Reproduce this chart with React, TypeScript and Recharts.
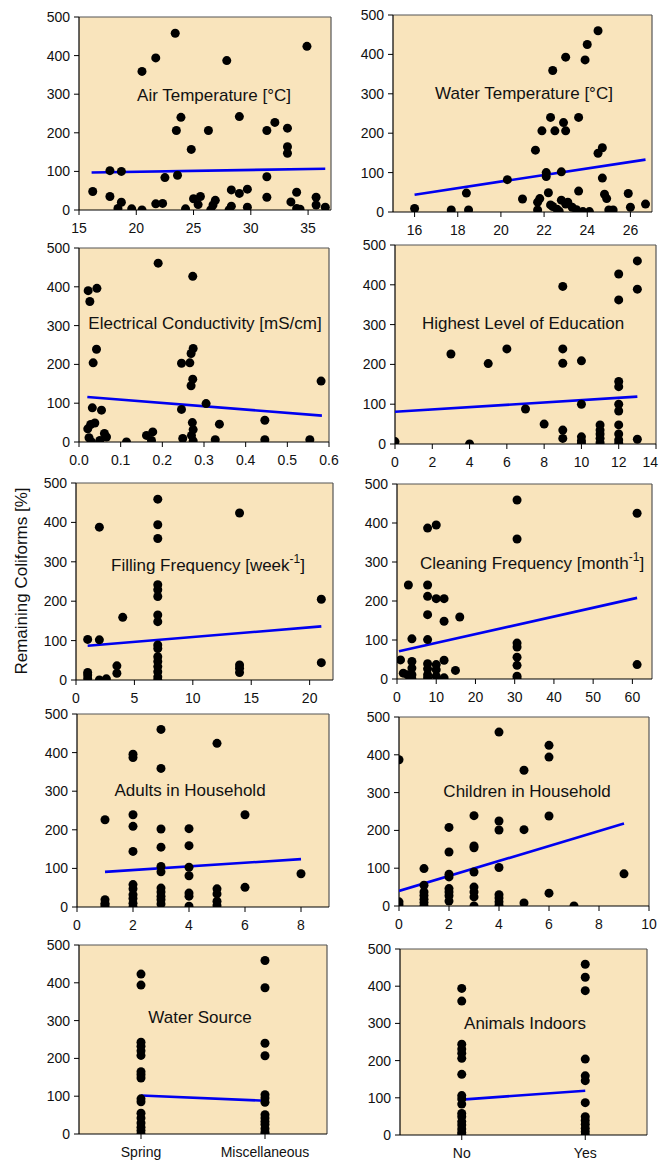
import React from 'react';
import { ScatterChart, Scatter, XAxis, YAxis, CartesianGrid, ReferenceLine } from 'recharts';

// ---------- Data ----------
const yTicks = [0, 100, 200, 300, 400, 500];

const airTempX = [16.2, 17.7, 17.7, 18.7, 18.7, 18.4, 19.6, 20.5, 20.5, 21.7, 21.7, 22.3, 22.5, 23.4, 23.5, 23.6, 23.9, 24.3, 24.8, 25.0, 25.4, 25.6, 26.3, 26.5, 26.7, 26.9, 27.9, 28.1, 28.3, 28.3, 29.0, 29.0, 29.7, 29.7, 31.4, 31.4, 31.4, 32.1, 33.2, 33.2, 33.2, 33.5, 34.0, 34.0, 34.3, 34.9, 35.7, 35.7, 36.5];
const airTempY = [48, 102, 35, 100, 20, 4, 3, 359, 0, 394, 16, 17, 84, 458, 206, 90, 240, 3, 157, 29, 14, 35, 206, 0, 13, 25, 387, 0, 52, 10, 43, 242, 54, 7, 206, 86, 33, 227, 212, 164, 147, 21, 46, 4, 2, 424, 33, 13, 7];
const airTempFit = [{ x: 16.1, y: 97 }, { x: 36.5, y: 107 }];
const airTempTicks = [15, 20, 25, 30, 35];

const waterTempX = [16.0, 17.7, 18.4, 18.5, 20.3, 21.0, 21.6, 21.7, 21.7, 21.8, 21.9, 22.1, 22.1, 22.2, 22.3, 22.3, 22.4, 22.4, 22.5, 22.6, 22.7, 22.8, 22.8, 22.9, 23.0, 23.0, 23.0, 23.1, 23.3, 23.5, 23.6, 23.6, 23.8, 23.9, 24.0, 24.1, 24.5, 24.5, 24.7, 24.7, 24.8, 24.9, 25.0, 25.2, 25.9, 26.0, 26.7];
const waterTempY = [9, 5, 48, 5, 82, 33, 157, 25, 5, 34, 206, 100, 90, 49, 240, 18, 359, 14, 206, 7, 2, 102, 30, 227, 206, 393, 20, 25, 12, 6, 240, 53, 1, 386, 425, 1, 460, 149, 163, 86, 45, 34, 5, 5, 47, 12, 20];
const waterTempFit = [{ x: 16.0, y: 44 }, { x: 26.7, y: 133 }];
const waterTempTicks = [16, 18, 20, 22, 24, 26];

const condX = [0.022, 0.026, 0.043, 0.042, 0.034, 0.032, 0.054, 0.021, 0.028, 0.038, 0.024, 0.030, 0.050, 0.061, 0.066, 0.114, 0.162, 0.177, 0.174, 0.190, 0.246, 0.246, 0.249, 0.266, 0.269, 0.274, 0.273, 0.273, 0.269, 0.272, 0.274, 0.270, 0.274, 0.305, 0.327, 0.337, 0.446, 0.446, 0.554, 0.581];
const condY = [390, 362, 396, 239, 204, 88, 82, 34, 45, 49, 11, 0, 4, 22, 13, 0, 17, 26, 4, 461, 203, 84, 9, 204, 228, 241, 427, 162, 145, 50, 32, 17, 3, 99, 6, 46, 56, 6, 6, 157];
const condFit = [{ x: 0.02, y: 116 }, { x: 0.583, y: 68 }];
const condTicks = [0, 0.1, 0.2, 0.3, 0.4, 0.5, 0.6];

const eduX = [0, 3, 4, 5, 6, 7, 8, 9, 9, 9, 9, 9, 10, 10, 10, 10, 10, 11, 11, 11, 11, 11, 12, 12, 12, 12, 12, 12, 12, 12, 12, 12, 13, 13, 13];
const eduY = [6, 226, 0, 202, 239, 88, 50, 396, 239, 203, 35, 14, 209, 100, 18, 8, 2, 48, 35, 25, 14, 3, 427, 362, 157, 144, 100, 83, 48, 25, 10, 2, 460, 389, 12];
const eduFit = [{ x: 0, y: 81 }, { x: 13, y: 119 }];
const eduTicks = [0, 2, 4, 6, 8, 10, 12, 14];

const fillX = [1, 1, 1, 1, 2, 2, 2, 2.6, 3.5, 3.5, 4, 7, 7, 7, 7, 7, 7, 7, 7, 7, 7, 7, 7, 7, 7, 7, 7, 14, 14, 14, 14, 21, 21];
const fillY = [103, 19, 13, 4, 388, 102, 0, 3, 36, 17, 159, 459, 394, 359, 242, 229, 212, 165, 148, 89, 80, 59, 47, 34, 21, 8, 0, 424, 38, 30, 19, 205, 44];
const fillFit = [{ x: 1, y: 87 }, { x: 21, y: 136 }];
const fillTicks = [0, 5, 10, 15, 20];

const cleanX = [0.9, 1.6, 2.7, 2.9, 3.8, 3.8, 3.8, 3.8, 3.8, 7.8, 7.8, 7.8, 7.8, 7.8, 7.8, 7.8, 7.8, 7.8, 10, 10, 10, 10, 10, 12, 12, 12, 12, 14.9, 16, 30.6, 30.6, 30.6, 30.6, 30.6, 30.6, 30.6, 30.6, 61.2, 61.2];
const cleanY = [49, 15, 11, 241, 103, 45, 28, 11, 0, 387, 241, 212, 165, 101, 39, 26, 11, 3, 395, 206, 37, 24, 7, 206, 148, 48, 3, 22, 159, 459, 359, 92, 82, 56, 35, 7, 0, 425, 37];
const cleanFit = [{ x: 0.5, y: 71 }, { x: 61.2, y: 208 }];
const cleanTicks = [0, 10, 20, 30, 40, 50, 60];

const adultsX = [1, 1, 1, 1, 1, 2, 2, 2, 2, 2, 2, 2, 2, 2, 2, 2, 3, 3, 3, 3, 3, 3, 3, 3, 3, 3, 3, 4, 4, 4, 4, 4, 4, 4, 5, 5, 5, 5, 5, 6, 6, 8];
const adultsY = [226, 19, 10, 6, 0, 396, 387, 239, 209, 144, 58, 47, 32, 22, 10, 0, 460, 359, 202, 155, 105, 91, 49, 39, 28, 19, 8, 203, 159, 103, 81, 36, 28, 2, 424, 47, 34, 15, 4, 239, 51, 86];
const adultsFit = [{ x: 1, y: 91 }, { x: 8, y: 124 }];
const adultsTicks = [0, 2, 4, 6, 8];

const childrenX = [0, 0, 0, 1, 1, 1, 1, 1, 1, 1, 2, 2, 2, 2, 2, 2, 2, 2, 3, 3, 3, 3, 3, 3, 3, 3, 4, 4, 4, 4, 4, 4, 4, 4, 5, 5, 5, 6, 6, 6, 6, 7, 9];
const childrenY = [387, 11, 4, 99, 55, 37, 28, 18, 9, 0, 208, 143, 84, 77, 46, 37, 27, 13, 239, 159, 154, 90, 50, 37, 24, 0, 460, 225, 201, 102, 30, 21, 11, 2, 359, 202, 8, 425, 394, 238, 34, 0, 85];
const childrenFit = [{ x: 0, y: 40 }, { x: 9, y: 218 }];
const childrenTicks = [0, 2, 4, 6, 8, 10];

const sourceCategories = ['Spring', 'Miscellaneous'];
const sourceX = [1, 1, 1, 1, 1, 1, 1, 1, 1, 1, 1, 1, 1, 1, 1, 1, 1, 3, 3, 3, 3, 3, 3, 3, 3, 3, 3, 3, 3, 3, 3];
const sourceY = [423, 394, 243, 232, 220, 208, 165, 157, 148, 93, 85, 55, 42, 29, 18, 9, 0, 459, 387, 240, 207, 104, 95, 84, 51, 42, 33, 25, 14, 5, 0];
const sourceFit = [{ x: 1, y: 102 }, { x: 3, y: 88 }];

const animalCategories = ['No', 'Yes'];
const animalX = [1, 1, 1, 1, 1, 1, 1, 1, 1, 1, 1, 1, 1, 1, 1, 1, 1, 3, 3, 3, 3, 3, 3, 3, 3, 3, 3, 3, 3, 3];
const animalY = [394, 360, 244, 231, 220, 206, 163, 106, 97, 83, 58, 49, 36, 27, 16, 7, 0, 459, 424, 388, 204, 159, 146, 87, 49, 39, 29, 18, 9, 0];
const animalFit = [{ x: 1, y: 95 }, { x: 3, y: 119 }];
const categoryTicks = [1, 3];

// ---------- Styling ----------
const FONT = '"Liberation Sans", Arial, Helvetica, sans-serif';
const BG = '#F9E4BC';
const TEXT = '#111';
const ML = 60, MT = 12, MR = 16, MB = 34;
const PAGE_W = 659;

type PanelProps = {
  xs: number[];
  ys: number[];
  fit: { x: number; y: number }[];
  box: [number, number, number, number];
  domain: [number, number];
  ticks: number[];
  tickFmt?: (v: number) => string;
  title: React.ReactNode;
  titlePos: [number, number];
};

const Dot = (p: any) => <circle cx={p.cx} cy={p.cy} r={4.5} fill="#000" />;
const NoDot = () => <g />;

function makeXTick(fmt: (v: number) => string, chartLeft: number) {
  return (props: any) => {
    const { x, y, payload } = props;
    const label = fmt(payload.value);
    const approxW = label.length * 7.8;
    // keep labels inside the page: anchor at the end if it would run off the right edge
    const overflow = chartLeft + x + approxW / 2 > PAGE_W - 1;
    return (
      <text
        x={overflow ? PAGE_W - 1 - chartLeft : x}
        y={y}
        textAnchor={overflow ? 'end' : 'middle'}
        fill={TEXT}
        fontSize={14}
        fontFamily={FONT}
      >
        <tspan dy="0.71em">{label}</tspan>
      </text>
    );
  };
}

function Panel({ xs, ys, fit, box, domain, ticks, tickFmt, title, titlePos }: PanelProps) {
  const [L, T, R, B] = box;
  const data = xs.map((x, i) => ({ x, y: ys[i] }));
  const tickStyle = { fontSize: 14, fill: TEXT, fontFamily: FONT };
  const fmt = tickFmt || ((v: number) => String(v));
  const chartLeft = L - ML;
  return (
    <>
      <div style={{ position: 'absolute', left: chartLeft, top: T - MT }}>
        <ScatterChart
          width={R - L + ML + MR}
          height={B - T + MT + MB}
          margin={{ top: MT, right: MR, bottom: 0, left: 0 }}
        >
          <CartesianGrid fill={BG} fillOpacity={1} horizontal={false} vertical={false} stroke="none" />
          <XAxis
            type="number"
            dataKey="x"
            domain={domain}
            ticks={ticks}
            interval={0}
            allowDataOverflow
            height={MB}
            tick={makeXTick(fmt, chartLeft)}
            tickSize={5}
            tickMargin={8}
            axisLine={{ stroke: '#000', strokeWidth: 1.2 }}
            tickLine={{ stroke: '#000' }}
          />
          <YAxis
            type="number"
            dataKey="y"
            domain={[0, 500]}
            ticks={yTicks}
            interval={0}
            allowDataOverflow
            width={ML}
            tick={tickStyle}
            tickSize={5}
            tickMargin={4}
            axisLine={{ stroke: '#000', strokeWidth: 1.2 }}
            tickLine={{ stroke: '#000' }}
          />
          <ReferenceLine y={500} stroke="#555" strokeWidth={1.2} />
          <ReferenceLine x={domain[1]} stroke="#555" strokeWidth={1.2} />
          <Scatter
            data={fit}
            fill="#0000F0"
            line={{ stroke: '#0000F0', strokeWidth: 2.6 }}
            shape={NoDot}
            isAnimationActive={false}
          />
          <Scatter data={data} fill="#000" shape={Dot} isAnimationActive={false} />
        </ScatterChart>
      </div>
      <div
        style={{
          position: 'absolute',
          left: titlePos[0] - 160,
          top: titlePos[1] - 10,
          width: 320,
          height: 20,
          lineHeight: '20px',
          textAlign: 'center',
          fontFamily: FONT,
          fontSize: 17,
          color: TEXT,
          whiteSpace: 'nowrap',
        }}
      >
        {title}
      </div>
    </>
  );
}

const sup = (s: string) => (
  <sup style={{ fontSize: 12, lineHeight: 0, position: 'relative', top: -1 }}>{s}</sup>
);

export default function App() {
  return (
    <div
      style={{
        position: 'absolute',
        left: 0,
        top: 0,
        width: 659,
        height: 1161,
        overflow: 'hidden',
        background: '#fff',
      }}
    >
      <Panel xs={airTempX} ys={airTempY} fit={airTempFit} box={[79, 17, 331, 210]} domain={[15, 37]} ticks={airTempTicks}
        title="Air Temperature [°C]" titlePos={[214, 96]} />
      <Panel xs={waterTempX} ys={waterTempY} fit={waterTempFit} box={[393, 15, 652, 212]} domain={[15, 27]} ticks={waterTempTicks}
        title="Water Temperature [°C]" titlePos={[524, 94]} />
      <Panel xs={condX} ys={condY} fit={condFit} box={[79, 248, 329, 442]} domain={[0, 0.6]} ticks={condTicks}
        tickFmt={(v) => v.toFixed(1)} title="Electrical Conductivity [mS/cm]" titlePos={[205, 324]} />
      <Panel xs={eduX} ys={eduY} fit={eduFit} box={[395, 245, 656, 444]} domain={[0, 14]} ticks={eduTicks}
        title="Highest Level of Education" titlePos={[523, 324]} />
      <Panel xs={fillX} ys={fillY} fit={fillFit} box={[76, 483, 333, 680]} domain={[0, 22]} ticks={fillTicks}
        title={<>Filling Frequency [week{sup('-1')}]</>} titlePos={[208, 566]} />
      <Panel xs={cleanX} ys={cleanY} fit={cleanFit} box={[397, 484, 652, 679]} domain={[0, 65]} ticks={cleanTicks}
        title={<>Cleaning Frequency [month{sup('-1')}]</>} titlePos={[532, 564]} />
      <Panel xs={adultsX} ys={adultsY} fit={adultsFit} box={[77, 714, 329, 907]} domain={[0, 9]} ticks={adultsTicks}
        title="Adults in Household" titlePos={[190, 791]} />
      <Panel xs={childrenX} ys={childrenY} fit={childrenFit} box={[399, 717, 649, 906]} domain={[0, 10]} ticks={childrenTicks}
        title="Children in Household" titlePos={[527, 792]} />
      <Panel xs={sourceX} ys={sourceY} fit={sourceFit} box={[79, 945, 327, 1134]} domain={[0, 4]} ticks={categoryTicks}
        tickFmt={(v) => sourceCategories[v === 1 ? 0 : 1]} title="Water Source" titlePos={[200, 1018]} />
      <Panel xs={animalX} ys={animalY} fit={animalFit} box={[400, 949, 647, 1135]} domain={[0, 4]} ticks={categoryTicks}
        tickFmt={(v) => animalCategories[v === 1 ? 0 : 1]} title="Animals Indoors" titlePos={[525, 1024]} />
      <div
        style={{
          position: 'absolute',
          left: 22 - 150,
          top: 581 - 10,
          width: 300,
          height: 20,
          lineHeight: '20px',
          textAlign: 'center',
          fontFamily: FONT,
          fontSize: 17,
          color: TEXT,
          transform: 'rotate(-90deg)',
          whiteSpace: 'nowrap',
        }}
      >
        Remaining Coliforms [%]
      </div>
    </div>
  );
}
